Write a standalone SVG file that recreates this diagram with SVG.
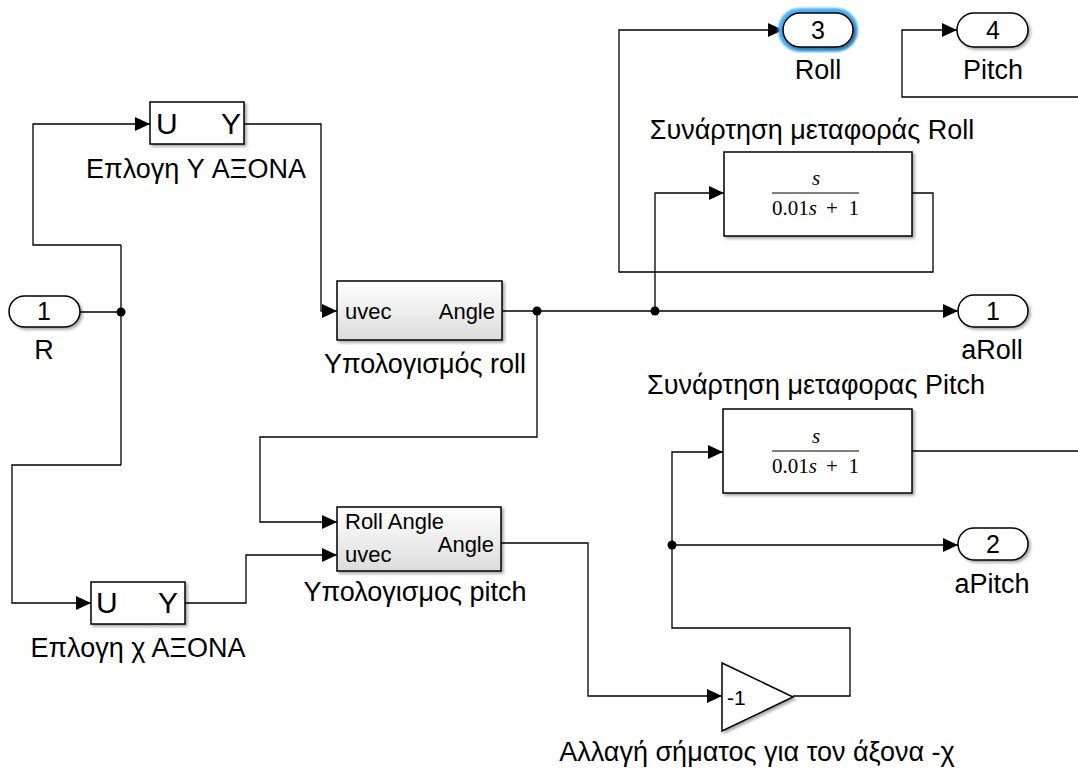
<svg xmlns="http://www.w3.org/2000/svg" width="1078" height="773" viewBox="0 0 1078 773">
<defs>
<marker id="arr" markerWidth="16" markerHeight="14" refX="15" refY="7" orient="auto" markerUnits="userSpaceOnUse">
<path d="M0,0 L15,7 L0,14 Z" fill="#000"/>
</marker>
<linearGradient id="grad" x1="0" y1="0" x2="0" y2="1">
<stop offset="0" stop-color="#ffffff"/>
<stop offset="1" stop-color="#dcdcdc"/>
</linearGradient>
<filter id="sh" x="-10%" y="-10%" width="130%" height="140%">
<feDropShadow dx="2" dy="2" stdDeviation="1.5" flood-color="#000" flood-opacity="0.35"/>
</filter>
<filter id="glow" x="-30%" y="-50%" width="160%" height="200%">
<feGaussianBlur stdDeviation="0.8"/>
</filter>
</defs>
<style>
text{font-family:"Liberation Sans",Arial,sans-serif;fill:#000}
.lbl{font-size:27px;text-anchor:middle}
.blk{fill:#fff;stroke:#000;stroke-width:1.5;filter:url(#sh)}
.gblk{fill:url(#grad);stroke:#000;stroke-width:1.5;filter:url(#sh)}
.port{fill:#fff;stroke:#000;stroke-width:1.5;filter:url(#sh)}
.pn{font-size:25px;text-anchor:middle}
.uy{font-size:30px}
.w{fill:none;stroke:#000;stroke-width:1.3}
.wa{fill:none;stroke:#000;stroke-width:1.3;marker-end:url(#arr)}
.tf{font-family:"Liberation Serif","Times New Roman",serif;font-size:21px}
.in{font-size:22px}
</style>

<g id="connectors">
<path class="w" d="M80,312 H121"/>
<path class="w" d="M121,245 V465"/>
<path class="wa" d="M121,245 H33 V124 H150"/>
<path class="wa" d="M121,465 H12 V603 H91"/>
<path class="wa" d="M244,124 H321 V311 H337"/>
<path class="w" d="M502,311 H537"/>
<path class="wa" d="M537,311 H958"/>
<path class="wa" d="M537,311 V437 H260 V522 H337"/>
<path class="wa" d="M185,603 H246 V555 H337"/>
<path class="wa" d="M501,543 H588 V696 H722"/>
<path class="wa" d="M793,696 H850 V628 H672 V452 H723"/>
<path class="wa" d="M672,545 H958"/>
<path class="wa" d="M655,311 V193 H724"/>
<path class="wa" d="M912,193 H933 V272 H619 V30 H783"/>
<path class="w" d="M912,451 H1078"/>
<path class="wa" d="M1078,97 H902 V30 H957"/>
<circle cx="121" cy="312" r="4.5"/>
<circle cx="537" cy="311" r="4.5"/>
<circle cx="655" cy="311" r="4.5"/>
<circle cx="672" cy="545" r="4.5"/>
</g>

<g id="in1">
<rect class="port" x="9" y="296" width="71" height="31" rx="15.5"/>
<text class="pn" x="44" y="320">1</text>
<text class="lbl" x="44" y="359">R</text>
</g>

<g id="selY">
<rect class="blk" x="150" y="102" width="94" height="42"/>
<text class="uy" x="156" y="134">U</text>
<text class="uy" x="241" y="134" text-anchor="end">Y</text>
<text class="lbl" x="196" y="178">Επλογη Y ΑΞΟΝΑ</text>
</g>

<g id="selX">
<rect class="blk" x="91" y="582" width="94" height="42"/>
<text class="uy" x="96" y="613">U</text>
<text class="uy" x="178" y="613" text-anchor="end">Y</text>
<text class="lbl" x="138" y="657">Επλογη χ ΑΞΟΝΑ</text>
</g>

<g id="rollCalc">
<rect class="gblk" x="337" y="281" width="165" height="59"/>
<text class="in" x="345" y="319">uvec</text>
<text class="in" x="495" y="319" text-anchor="end">Angle</text>
<text class="lbl" x="425" y="373">Υπολογισμός roll</text>
</g>

<g id="pitchCalc">
<rect class="gblk" x="337" y="507" width="164" height="64"/>
<text class="in" x="345" y="529">Roll Angle</text>
<text class="in" x="345" y="562">uvec</text>
<text class="in" x="494" y="552" text-anchor="end">Angle</text>
<text class="lbl" x="415" y="601">Υπολογισμος pitch</text>
</g>

<g id="tfRoll">
<rect class="blk" x="724" y="152" width="188" height="84"/>
<text class="tf" x="816" y="185" font-style="italic" text-anchor="middle">s</text>
<line x1="772" y1="193" x2="859" y2="193" stroke="#000" stroke-width="1"/>
<text class="tf" x="772" y="215">0.01<tspan font-style="italic">s</tspan></text>
<text class="tf" x="832" y="215" text-anchor="middle">+</text>
<text class="tf" x="859" y="215" text-anchor="end">1</text>
<text class="lbl" x="812" y="139">Συνάρτηση μεταφοράς Roll</text>
</g>

<g id="tfPitch">
<rect class="blk" x="723" y="409" width="189" height="84"/>
<text class="tf" x="816" y="443" font-style="italic" text-anchor="middle">s</text>
<line x1="772" y1="451" x2="859" y2="451" stroke="#000" stroke-width="1"/>
<text class="tf" x="772" y="473">0.01<tspan font-style="italic">s</tspan></text>
<text class="tf" x="832" y="473" text-anchor="middle">+</text>
<text class="tf" x="859" y="473" text-anchor="end">1</text>
<text class="lbl" x="816" y="394">Συνάρτηση μεταφορας Pitch</text>
</g>

<g id="gain">
<path class="blk" d="M722,663 L793,697 L722,731 Z"/>
<text x="727" y="705" font-size="21">-1</text>
<text class="lbl" x="757" y="761">Αλλαγή σήματος για τον άξονα -χ</text>
</g>

<g id="out3">
<rect x="781" y="11" width="74" height="38" rx="19" fill="none" stroke="#4caef0" stroke-width="6" filter="url(#glow)"/>
<rect class="port" x="783" y="13" width="70" height="34" rx="17"/>
<text class="pn" x="818" y="39">3</text>
<text class="lbl" x="818" y="79">Roll</text>
</g>

<g id="out4">
<rect class="port" x="957" y="13" width="71" height="34" rx="17"/>
<text class="pn" x="993" y="39">4</text>
<text class="lbl" x="993" y="79">Pitch</text>
</g>

<g id="out1">
<rect class="port" x="958" y="295" width="70" height="32" rx="16"/>
<text class="pn" x="993" y="320">1</text>
<text class="lbl" x="992" y="359">aRoll</text>
</g>

<g id="out2">
<rect class="port" x="958" y="528" width="70" height="32" rx="16"/>
<text class="pn" x="993" y="553">2</text>
<text class="lbl" x="992" y="593">aPitch</text>
</g>
</svg>
